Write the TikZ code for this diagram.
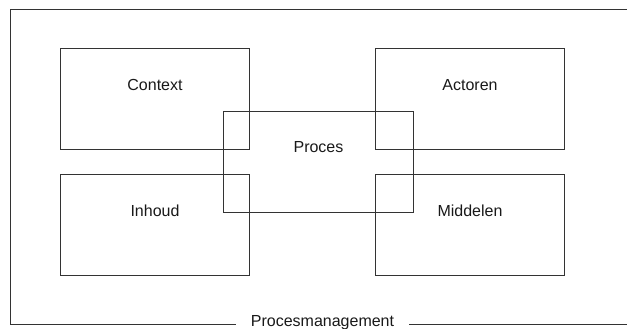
\documentclass[tikz,border=0pt]{standalone}
\usepackage{fontspec}
\setmainfont{Liberation Sans}
\begin{document}
\begin{tikzpicture}[x=1pt,y=-1pt,
  frame/.style={draw=black!80,line width=1pt},
  area/.style={frame,minimum width=189pt,minimum height=101pt,inner sep=0pt,anchor=north west},
  caption/.style={font=\fontsize{16}{18}\selectfont,text=black!90,inner sep=0pt}]
  \useasboundingbox (0,0) rectangle (627,329);

  % four aspect boxes
  \node[area] (ctx) at (60,48) {};
  \node[area] (act) at (375,48) {};
  \node[area] (inh) at (60,174) {};
  \node[area] (mid) at (375,174) {};
  % overlapping process box
  \node[area,minimum width=190pt] (proc) at (223,111) {};

  \node[caption] (ctxt) at ([yshift=-37pt]ctx.north) {Context};
  \node[caption] (actt) at ([yshift=-37pt]act.north) {Actoren};
  \node[caption] (inht) at ([yshift=-37pt]inh.north) {Inhoud};
  \node[caption] (midt) at ([yshift=-37pt]mid.north) {Middelen};
  \node[caption] (proct) at ([yshift=-36pt]proc.north) {Proces};

  % open frame with its title set into the bottom edge
  \node[caption,inner xsep=15pt] (pm) at (322.5,323) {Procesmanagement};
  \coordinate (tl) at (10,10);
  \coordinate (tr) at (627,10);
  \coordinate (bl) at (10,324);
  \coordinate (br) at (627,324);
  \draw[frame] (pm.west |- bl) -- (bl) -- (tl) -- (tr);
  \draw[frame] (pm.east |- br) -- (br);
\end{tikzpicture}
\end{document}
